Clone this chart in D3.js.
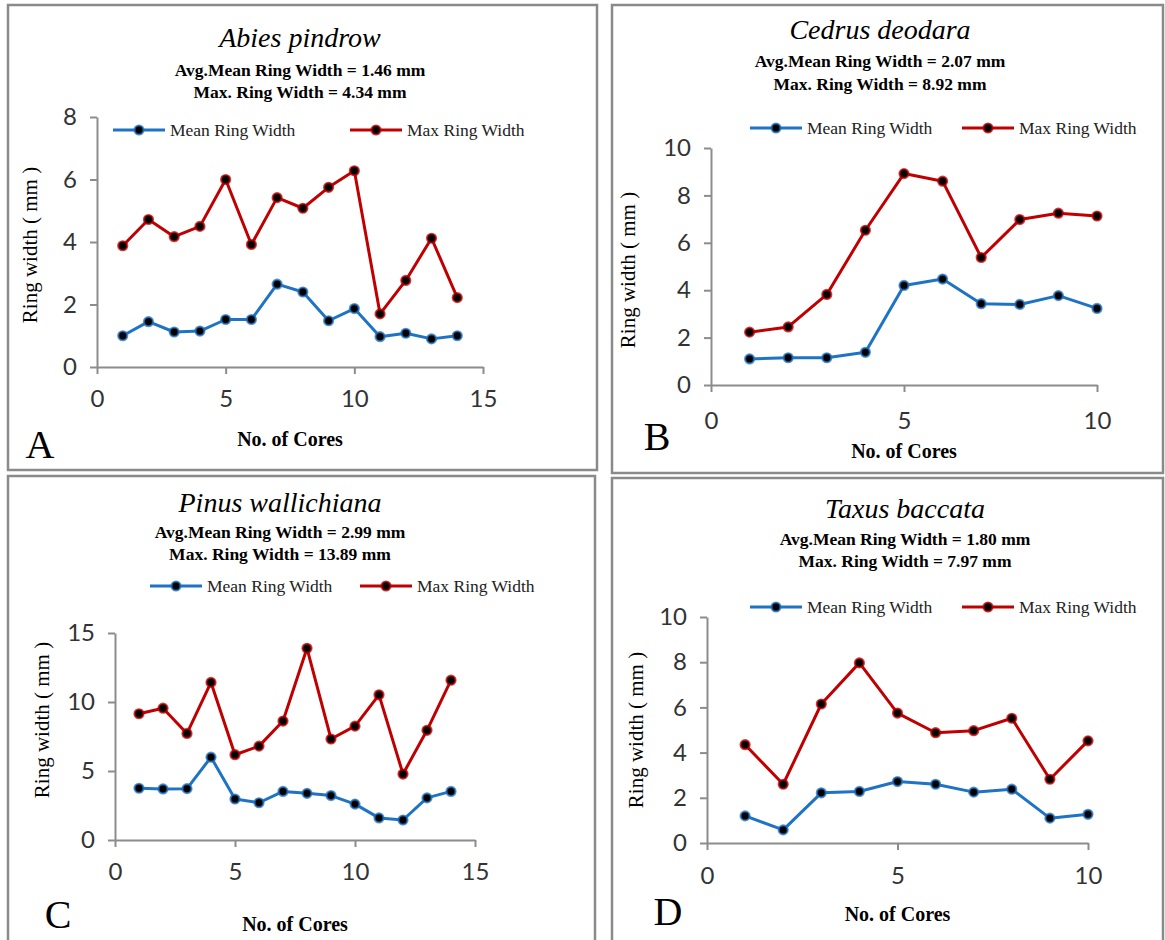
<!DOCTYPE html>
<html>
<head>
<meta charset="utf-8">
<script src="https://cdn.jsdelivr.net/npm/d3@7/dist/d3.min.js"></script>
<style>
  body { margin: 0; background: #fff; }
  .serif { font-family: "Liberation Serif", "DejaVu Serif", serif; }
  .tick text { font-family: Lato, "Open Sans", sans-serif; font-size: 24px; fill: #333; }
  .domain, .tick line { stroke: #8c8c8c; stroke-width: 2; }
</style>
</head>
<body>
<svg id="chart" width="1165" height="940"></svg>
<script>
// ---- data ----
var coresA = [1, 2, 3, 4, 5, 6, 7, 8, 9, 10, 11, 12, 13, 14];
var meanA = [1.00, 1.45, 1.12, 1.15, 1.52, 1.52, 2.65, 2.40, 1.48, 1.87, 0.97, 1.08, 0.90, 1.00];
var maxA  = [3.88, 4.72, 4.17, 4.50, 6.00, 3.92, 5.42, 5.08, 5.75, 6.28, 1.70, 2.77, 4.12, 2.22];

var coresB = [1, 2, 3, 4, 5, 6, 7, 8, 9, 10];
var meanB = [1.10, 1.15, 1.15, 1.38, 4.20, 4.47, 3.43, 3.40, 3.77, 3.23];
var maxB  = [2.23, 2.45, 3.82, 6.53, 8.92, 8.60, 5.38, 6.98, 7.25, 7.13];

var coresC = [1, 2, 3, 4, 5, 6, 7, 8, 9, 10, 11, 12, 13, 14];
var meanC = [3.75, 3.70, 3.72, 6.00, 2.97, 2.70, 3.52, 3.38, 3.22, 2.60, 1.60, 1.45, 3.05, 3.52];
var maxC  = [9.15, 9.55, 7.72, 11.42, 6.18, 6.80, 8.62, 13.89, 7.32, 8.25, 10.52, 4.78, 7.95, 11.58];

var coresD = [1, 2, 3, 4, 5, 6, 7, 8, 9, 10];
var meanD = [1.20, 0.58, 2.22, 2.28, 2.72, 2.60, 2.25, 2.38, 1.10, 1.27];
var maxD  = [4.35, 2.60, 6.15, 7.97, 5.75, 4.88, 4.97, 5.52, 2.82, 4.52];

var titles = ["Abies pindrow", "Cedrus deodara", "Pinus wallichiana", "Taxus baccata"];
var avgLines = ["Avg.Mean Ring Width = 1.46 mm", "Avg.Mean Ring Width = 2.07 mm",
                "Avg.Mean Ring Width = 2.99 mm", "Avg.Mean Ring Width = 1.80 mm"];
var maxLines = ["Max. Ring Width = 4.34 mm", "Max. Ring Width = 8.92 mm",
                "Max. Ring Width = 13.89 mm", "Max. Ring Width = 7.97 mm"];
var letters = ["A", "B", "C", "D"];
var seriesNames = ["Mean Ring Width", "Max Ring Width"];
var xTicksA = [0, 5, 10, 15], yTicksA = [0, 2, 4, 6, 8];
var xTicksB = [0, 5, 10],     yTicksB = [0, 2, 4, 6, 8, 10];
var xTicksC = [0, 5, 10, 15], yTicksC = [0, 5, 10, 15];
var xTicksD = [0, 5, 10],     yTicksD = [0, 2, 4, 6, 8, 10];

var colors = ["#1f73c4", "#c00000"];

// ---- layout of each panel ----
var panels = [
  { box: [8, 5, 597, 470], plot: [97, 117, 483, 367], xMax: 15, yMax: 8,
    xTicks: xTicksA, yTicks: yTicksA, cores: coresA, mean: meanA, max: maxA,
    cx: 300, titleY: 47, subY: [76, 98], legY: 130, legX: [113, 350],
    yLab: [30, 245], xLabY: 446, letter: [40, 458], xPad: 16 },
  { box: [612, 5, 1163, 473], plot: [711, 148, 1097, 385], xMax: 10, yMax: 10,
    xTicks: xTicksB, yTicks: yTicksB, cores: coresB, mean: meanB, max: maxB,
    cx: 880, titleY: 39, subY: [67, 90], legY: 128, legX: [750, 962],
    yLab: [628, 270], xLabY: 458, letter: [657, 450], xPad: 20 },
  { box: [8, 476, 595, 945], plot: [115, 633, 475, 840], xMax: 15, yMax: 15,
    xTicks: xTicksC, yTicks: yTicksC, cores: coresC, mean: meanC, max: maxC,
    cx: 280, titleY: 512, subY: [538, 560], legY: 586, legX: [150, 360],
    yLab: [42, 720], xLabY: 931, letter: [58, 928], xPad: 16 },
  { box: [612, 478, 1163, 945], plot: [707, 617, 1088, 843], xMax: 10, yMax: 10,
    xTicks: xTicksD, yTicks: yTicksD, cores: coresD, mean: meanD, max: maxD,
    cx: 905, titleY: 518, subY: [545, 567], legY: 607, legX: [750, 962],
    yLab: [636, 730], xLabY: 921, letter: [668, 925], xPad: 17 }
];

var svg = d3.select("#chart");

function drawPanel(p, i) {
  var g = svg.append("g").attr("class", "panel");

  g.append("rect")
      .attr("x", p.box[0]).attr("y", p.box[1])
      .attr("width", p.box[2] - p.box[0])
      .attr("height", p.box[3] - p.box[1])
      .style("fill", "none")
      .style("stroke", "#8a8a8a")
      .style("stroke-width", 2.5);

  var x = d3.scaleLinear().domain([0, p.xMax]).range([p.plot[0], p.plot[2]]),
      y = d3.scaleLinear().domain([0, p.yMax]).range([p.plot[3], p.plot[1]]);

  g.append("g")
      .attr("transform", "translate(0," + p.plot[3] + ")")
      .call(d3.axisBottom(x).tickValues(p.xTicks).tickSize(7).tickSizeOuter(0).tickPadding(p.xPad));
  g.append("g")
      .attr("transform", "translate(" + p.plot[0] + ",0)")
      .call(d3.axisLeft(y).tickValues(p.yTicks).tickSize(7).tickSizeOuter(0).tickPadding(13));

  // titles
  g.append("text").attr("class", "serif")
      .attr("x", p.cx).attr("y", p.titleY)
      .attr("text-anchor", "middle")
      .style("font-style", "italic").style("font-size", "28px")
      .text(titles[i]);
  [avgLines[i], maxLines[i]].forEach(function(t, k) {
    g.append("text").attr("class", "serif")
        .attr("x", p.cx).attr("y", p.subY[k])
        .attr("text-anchor", "middle")
        .style("font-weight", "bold").style("font-size", "17.5px")
        .text(t);
  });

  // axis labels
  g.append("text").attr("class", "serif")
      .attr("transform", "translate(" + p.yLab[0] + "," + p.yLab[1] + ") rotate(-90)")
      .attr("text-anchor", "middle")
      .attr("dy", "0.35em")
      .style("font-size", "21px")
      .text("Ring width ( mm )");
  g.append("text").attr("class", "serif")
      .attr("x", (p.plot[0] + p.plot[2]) / 2).attr("y", p.xLabY)
      .attr("text-anchor", "middle")
      .style("font-weight", "bold").style("font-size", "20px")
      .text("No. of Cores");
  g.append("text").attr("class", "serif")
      .attr("x", p.letter[0]).attr("y", p.letter[1])
      .attr("text-anchor", "middle")
      .style("font-size", "40px")
      .text(letters[i]);

  // series
  var line = d3.line()
      .x(function(d) { return x(d[0]); })
      .y(function(d) { return y(d[1]); });

  [p.mean, p.max].forEach(function(vals, s) {
    var pts = p.cores.map(function(c, j) { return [c, vals[j]]; });
    g.append("path")
        .datum(pts)
        .attr("d", line)
        .style("fill", "none")
        .style("stroke", colors[s])
        .style("stroke-width", 3)
        .style("stroke-linejoin", "round");
    g.selectAll(".dot-" + s).data(pts).enter().append("circle")
        .attr("class", "dot-" + s)
        .attr("cx", function(d) { return x(d[0]); })
        .attr("cy", function(d) { return y(d[1]); })
        .attr("r", 4.5)
        .style("fill", "#000")
        .style("stroke", colors[s])
        .style("stroke-opacity", 0.75)
        .style("stroke-width", 2.2);

    // legend entry
    var lx = p.legX[s];
    var lg = g.append("g").attr("class", "legend-box");
    lg.append("line")
        .attr("x1", lx).attr("x2", lx + 52)
        .attr("y1", p.legY).attr("y2", p.legY)
        .style("stroke", colors[s]).style("stroke-width", 3);
    lg.append("circle")
        .attr("cx", lx + 26).attr("cy", p.legY).attr("r", 4.5)
        .style("fill", "#000").style("stroke", colors[s])
        .style("stroke-opacity", 0.75).style("stroke-width", 2.2);
    lg.append("text").attr("class", "serif")
        .attr("x", lx + 57).attr("y", p.legY)
        .attr("dy", "0.35em")
        .style("font-size", "17.5px").style("fill", "#222")
        .text(seriesNames[s]);
  });
}

panels.forEach(drawPanel);
</script>
</body>
</html>
